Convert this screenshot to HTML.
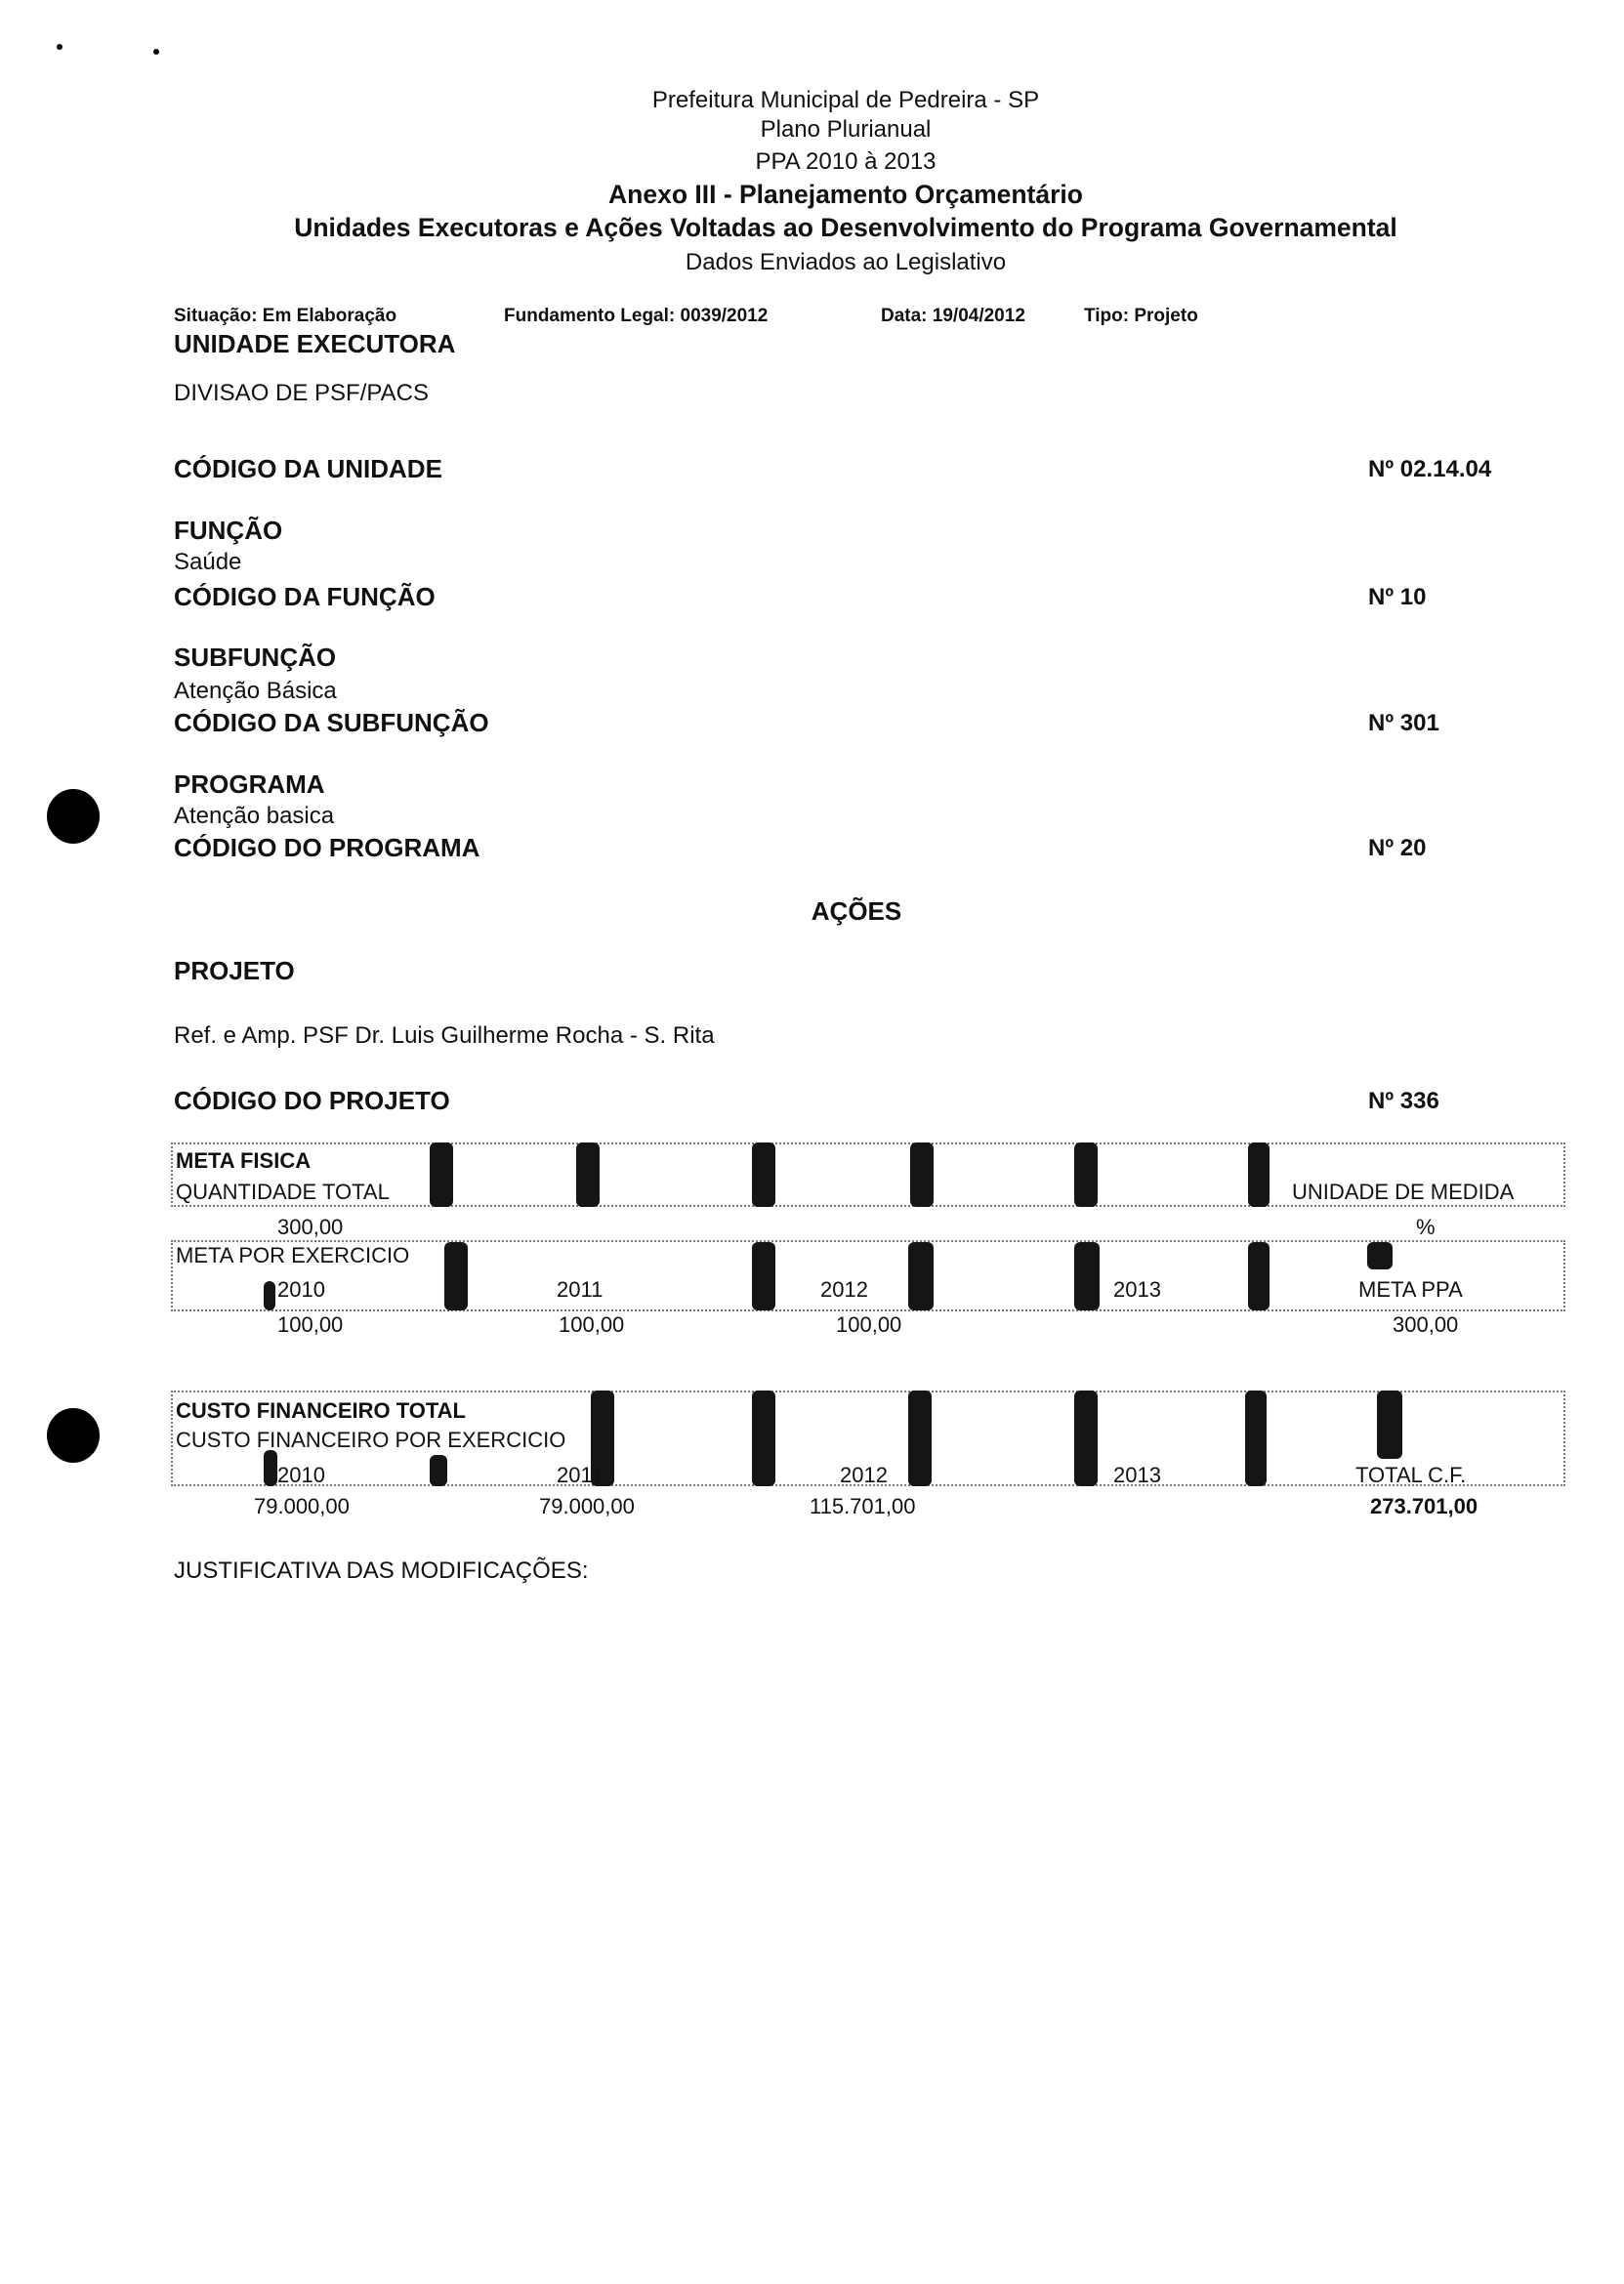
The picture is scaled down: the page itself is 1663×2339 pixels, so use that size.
<!DOCTYPE html>
<html><head><meta charset="utf-8"><style>
body{margin:0;width:1663px;height:2339px;background:#fff;position:relative;overflow:hidden;font-family:"Liberation Sans",Arial,sans-serif;color:#111}
.t{position:absolute;white-space:nowrap;font-size:24px;line-height:24px}
.b{font-weight:bold}
.c{transform:translateX(-50%)}
.box{position:absolute;border:2px dotted #777;box-sizing:border-box}
.s{position:absolute;background:#151515;border-radius:6px}
.d{position:absolute;background:#000;border-radius:50%}
</style></head><body>
<div class="d" style="left:58px;top:45px;width:6px;height:6px"></div>
<div class="d" style="left:157px;top:50px;width:6px;height:6px"></div>
<div class="d" style="left:48px;top:808px;width:54px;height:56px"></div>
<div class="d" style="left:48px;top:1442px;width:54px;height:56px"></div>

<div class="t c" style="left:866px;top:91px">Prefeitura Municipal de Pedreira - SP</div>
<div class="t c" style="left:866px;top:121px">Plano Plurianual</div>
<div class="t c" style="left:866px;top:154px">PPA 2010 à 2013</div>
<div class="t c b" style="left:866px;top:187px;font-size:26.5px">Anexo III - Planejamento Orçamentário</div>
<div class="t c b" style="left:866px;top:221px;font-size:26.5px">Unidades Executoras e Ações Voltadas ao Desenvolvimento do Programa Governamental</div>
<div class="t c" style="left:866px;top:257px">Dados Enviados ao Legislativo</div>

<div class="t b" style="left:178px;top:312px;font-size:19px">Situação: Em Elaboração</div>
<div class="t b" style="left:516px;top:312px;font-size:19px">Fundamento Legal: 0039/2012</div>
<div class="t b" style="left:902px;top:312px;font-size:19px">Data: 19/04/2012</div>
<div class="t b" style="left:1110px;top:312px;font-size:19px">Tipo: Projeto</div>
<div class="t b" style="left:178px;top:340px;font-size:26px">UNIDADE EXECUTORA</div>
<div class="t" style="left:178px;top:391px">DIVISAO DE PSF/PACS</div>
<div class="t b" style="left:178px;top:468px;font-size:26px">CÓDIGO DA UNIDADE</div>
<div class="t b" style="left:1401px;top:469px">Nº 02.14.04</div>
<div class="t b" style="left:178px;top:531px;font-size:26px">FUNÇÃO</div>
<div class="t" style="left:178px;top:564px">Saúde</div>
<div class="t b" style="left:178px;top:599px;font-size:26px">CÓDIGO DA FUNÇÃO</div>
<div class="t b" style="left:1401px;top:600px">Nº 10</div>
<div class="t b" style="left:178px;top:661px;font-size:26px">SUBFUNÇÃO</div>
<div class="t" style="left:178px;top:696px">Atenção Básica</div>
<div class="t b" style="left:178px;top:728px;font-size:26px">CÓDIGO DA SUBFUNÇÃO</div>
<div class="t b" style="left:1401px;top:729px">Nº 301</div>
<div class="t b" style="left:178px;top:791px;font-size:26px">PROGRAMA</div>
<div class="t" style="left:178px;top:824px">Atenção basica</div>
<div class="t b" style="left:178px;top:856px;font-size:26px">CÓDIGO DO PROGRAMA</div>
<div class="t b" style="left:1401px;top:857px">Nº 20</div>
<div class="t c b" style="left:877px;top:921px;font-size:26px">AÇÕES</div>
<div class="t b" style="left:178px;top:982px;font-size:26px">PROJETO</div>
<div class="t" style="left:178px;top:1049px">Ref. e Amp. PSF Dr. Luis Guilherme Rocha - S. Rita</div>
<div class="t b" style="left:178px;top:1115px;font-size:26px">CÓDIGO DO PROJETO</div>
<div class="t b" style="left:1401px;top:1116px">Nº 336</div>

<div style="position:absolute;left:0;top:-17px;width:1663px;height:1300px">
<div class="box" style="left:175px;top:1187px;width:1428px;height:66px"></div>
<div class="s" style="left:440px;top:1187px;width:24px;height:66px"></div>
<div class="s" style="left:590px;top:1187px;width:24px;height:66px"></div>
<div class="s" style="left:770px;top:1187px;width:24px;height:66px"></div>
<div class="s" style="left:932px;top:1187px;width:24px;height:66px"></div>
<div class="s" style="left:1100px;top:1187px;width:24px;height:66px"></div>
<div class="s" style="left:1278px;top:1187px;width:22px;height:66px"></div>
<div class="t b" style="left:180px;top:1194px;font-size:22px">META FISICA</div>
<div class="t" style="left:180px;top:1226px;font-size:22px">QUANTIDADE TOTAL</div>
<div class="t" style="left:1323px;top:1226px;font-size:22px">UNIDADE DE MEDIDA</div>
<div class="t" style="left:284px;top:1262px;font-size:22px">300,00</div>
<div class="t" style="left:1450px;top:1262px;font-size:22px">%</div>
</div>

<div style="position:absolute;left:0;top:-18px;width:1663px;height:1400px">
<div class="box" style="left:175px;top:1288px;width:1428px;height:73px"></div>
<div class="s" style="left:455px;top:1290px;width:24px;height:70px"></div>
<div class="s" style="left:270px;top:1330px;width:12px;height:30px"></div>
<div class="s" style="left:770px;top:1290px;width:24px;height:70px"></div>
<div class="s" style="left:930px;top:1290px;width:26px;height:70px"></div>
<div class="s" style="left:1100px;top:1290px;width:26px;height:70px"></div>
<div class="s" style="left:1278px;top:1290px;width:22px;height:70px"></div>
<div class="s" style="left:1400px;top:1290px;width:26px;height:28px"></div>
<div class="t" style="left:180px;top:1292px;font-size:22px">META POR EXERCICIO</div>
<div class="t" style="left:284px;top:1327px;font-size:22px">2010</div>
<div class="t" style="left:570px;top:1327px;font-size:22px">2011</div>
<div class="t" style="left:840px;top:1327px;font-size:22px">2012</div>
<div class="t" style="left:1140px;top:1327px;font-size:22px">2013</div>
<div class="t" style="left:1391px;top:1327px;font-size:22px">META PPA</div>
<div class="t" style="left:284px;top:1363px;font-size:22px">100,00</div>
<div class="t" style="left:572px;top:1363px;font-size:22px">100,00</div>
<div class="t" style="left:856px;top:1363px;font-size:22px">100,00</div>
<div class="t" style="left:1426px;top:1363px;font-size:22px">300,00</div>
</div>

<div style="position:absolute;left:0;top:-20px;width:1663px;height:1600px">
<div class="box" style="left:175px;top:1444px;width:1428px;height:98px"></div>
<div class="s" style="left:605px;top:1444px;width:24px;height:98px"></div>
<div class="s" style="left:770px;top:1444px;width:24px;height:98px"></div>
<div class="s" style="left:930px;top:1444px;width:24px;height:98px"></div>
<div class="s" style="left:1100px;top:1444px;width:24px;height:98px"></div>
<div class="s" style="left:1410px;top:1444px;width:26px;height:70px"></div>
<div class="s" style="left:1275px;top:1444px;width:22px;height:98px"></div>
<div class="s" style="left:270px;top:1505px;width:14px;height:37px"></div>
<div class="s" style="left:440px;top:1510px;width:18px;height:32px"></div>
<div class="t b" style="left:180px;top:1453px;font-size:22px">CUSTO FINANCEIRO TOTAL</div>
<div class="t" style="left:180px;top:1483px;font-size:22px">CUSTO FINANCEIRO POR EXERCICIO</div>
<div class="t" style="left:284px;top:1519px;font-size:22px">2010</div>
<div class="t" style="left:570px;top:1519px;font-size:22px">2011</div>
<div class="t" style="left:860px;top:1519px;font-size:22px">2012</div>
<div class="t" style="left:1140px;top:1519px;font-size:22px">2013</div>
<div class="t" style="left:1388px;top:1519px;font-size:22px">TOTAL C.F.</div>
<div class="t" style="left:260px;top:1551px;font-size:22px">79.000,00</div>
<div class="t" style="left:552px;top:1551px;font-size:22px">79.000,00</div>
<div class="t" style="left:829px;top:1551px;font-size:22px">115.701,00</div>
<div class="t b" style="left:1403px;top:1551px;font-size:22px">273.701,00</div>
</div>

<div class="t" style="left:178px;top:1597px">JUSTIFICATIVA DAS MODIFICAÇÕES:</div>
</body></html>
